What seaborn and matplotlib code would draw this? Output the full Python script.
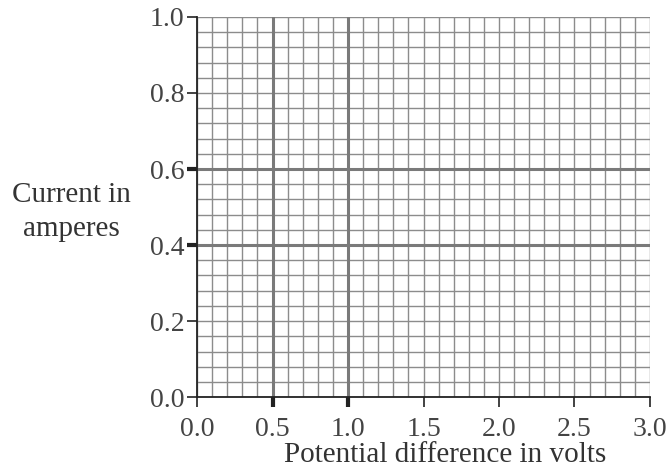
import numpy as np
import matplotlib
matplotlib.use('Agg')
import matplotlib.pyplot as plt
import seaborn as sns

# axis ticks and grid lines
x_ticks = [0.0, 0.5, 1.0, 1.5, 2.0, 2.5, 3.0]
y_ticks = [0.0, 0.2, 0.4, 0.6, 0.8, 1.0]
x_minor = [round(0.1 * i, 1) for i in range(31)]
y_minor = [round(0.04 * i, 2) for i in range(26)]
heavy_x = [0.5, 1.0]
heavy_y = [0.4, 0.6]

sns.set_style('ticks')
plt.rcParams['font.family'] = ['Liberation Serif', 'DejaVu Serif']

fig = plt.figure(figsize=(6.68, 4.7), dpi=100)
ax = fig.add_axes([0.295, 0.155, 0.678, 0.809])

# fine grid
for x in x_minor:
    ax.axvline(x, color='#8c8c8c', lw=1.0, zorder=1)
for y in y_minor:
    ax.axhline(y, color='#8c8c8c', lw=1.0, zorder=1)
# heavier lines
for x in heavy_x:
    ax.axvline(x, color='#7a7a7a', lw=2.2, zorder=2)
for y in heavy_y:
    ax.axhline(y, color='#7a7a7a', lw=2.2, zorder=2)

ax.set_xlim(0, 3.0)
ax.set_ylim(0, 1.0)
ax.set_xticks(x_ticks)
ax.set_yticks(y_ticks)
ax.set_xticklabels([f'{v:.1f}' for v in x_ticks])
ax.set_yticklabels([f'{v:.1f}' for v in y_ticks])
ax.tick_params(direction='out', length=7, width=1.2, color='#222222',
               labelsize=20, labelcolor='#444444')
ax.tick_params(axis='x', pad=7)
ax.tick_params(axis='y', pad=2)
sns.despine(ax=ax)
for s in ['left', 'bottom']:
    ax.spines[s].set_color('#222222')
    ax.spines[s].set_linewidth(1.3)
    ax.spines[s].set_zorder(3)

# thick ticks where the heavy lines are
for t, v in zip(ax.xaxis.get_major_ticks(), x_ticks):
    if v in heavy_x:
        t.tick1line.set_markeredgewidth(3)
for t, v in zip(ax.yaxis.get_major_ticks(), y_ticks):
    if v in heavy_y:
        t.tick1line.set_markeredgewidth(3)

ax.set_xlabel('Potential difference in volts', fontsize=21, color='#333333', labelpad=0)
ax.xaxis.set_label_coords(0.547, -0.118)
fig.text(0.107, 0.549, 'Current in\namperes', fontsize=21, color='#333333',
         ha='center', va='center', linespacing=1.4)

fig.savefig('out.png', dpi=100)
